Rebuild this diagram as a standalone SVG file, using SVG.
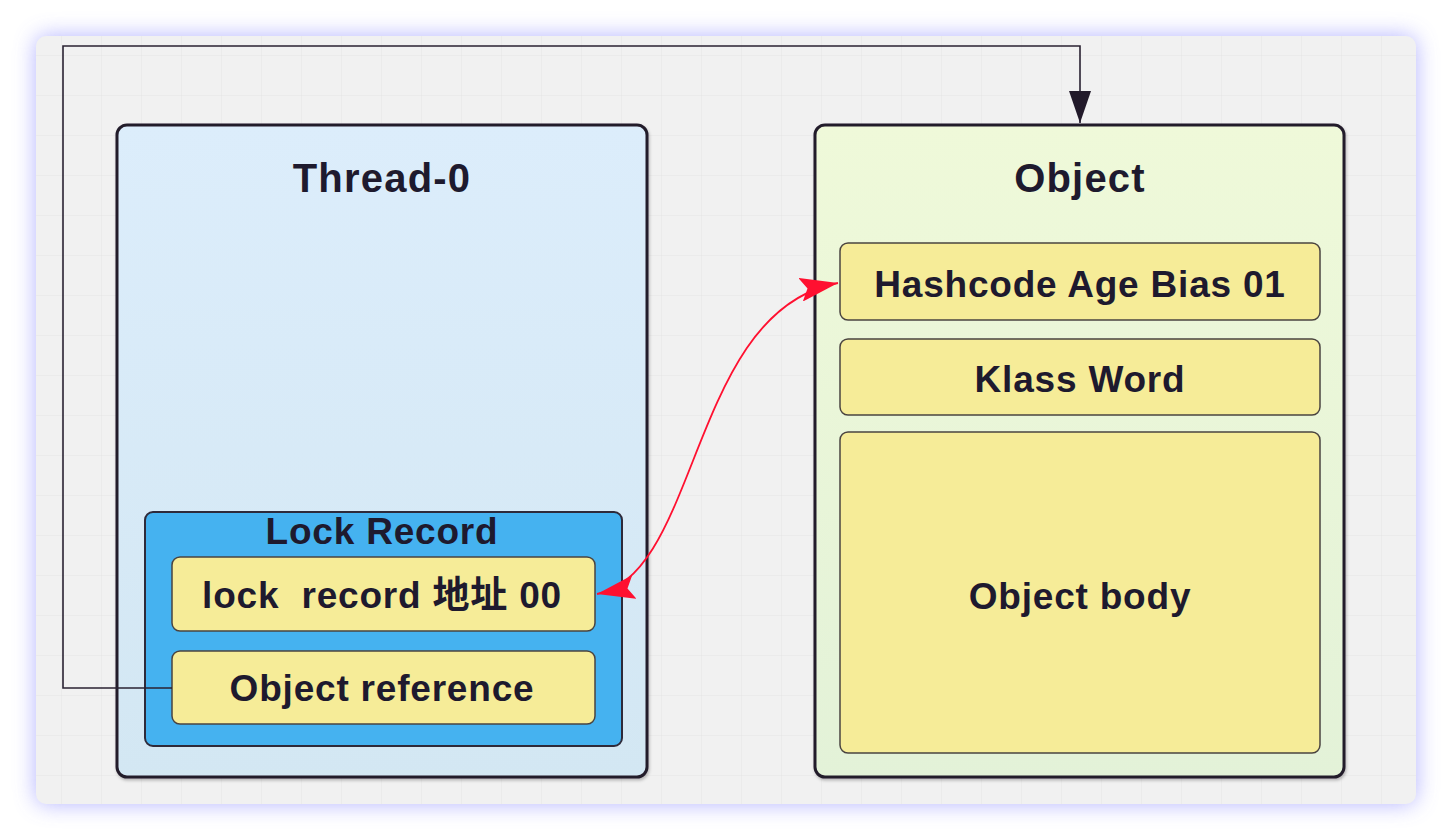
<svg xmlns="http://www.w3.org/2000/svg" width="1452" height="840" viewBox="0 0 1452 840">
<defs>
<style>
.t{font-family:"Liberation Sans","Noto Sans CJK SC",sans-serif;font-weight:bold;fill:#1e1a2e;text-anchor:middle;dominant-baseline:central;white-space:pre}
.big{font-size:40px;letter-spacing:1.2px}
.mid{font-size:37px;letter-spacing:0.8px}
.cell{fill:#f6ec98;stroke:#4a4440;stroke-width:1.5}
.frame{stroke:#241c2c;stroke-width:3}
.conn{fill:none;stroke:#2a2232;stroke-width:1.6}
.red{fill:none;stroke:#ff1030;stroke-width:1.8}
</style>
<pattern id="grid" width="40" height="40" patternUnits="userSpaceOnUse" x="22" y="16">
<path d="M40 0V40M0 40H40" fill="none" stroke="#e4e4e4" stroke-width="1"/>
</pattern>
<linearGradient id="blue" x1="0" y1="0" x2="0" y2="1">
<stop offset="0" stop-color="#dcedfb"/><stop offset="1" stop-color="#d3e7f3"/>
</linearGradient>
<linearGradient id="green" x1="0" y1="0" x2="0" y2="1">
<stop offset="0" stop-color="#eff9d9"/><stop offset="1" stop-color="#e3f2d8"/>
</linearGradient>
<filter id="sh" x="-5%" y="-5%" width="110%" height="110%">
<feDropShadow dx="1" dy="2" stdDeviation="1.5" flood-color="#000" flood-opacity="0.25"/>
</filter>
<filter id="blur" x="-10%" y="-10%" width="120%" height="120%">
<feGaussianBlur stdDeviation="11"/>
</filter>
<marker id="ab" viewBox="0 0 32 22" refX="32" refY="11" markerWidth="32" markerHeight="22" markerUnits="userSpaceOnUse" orient="auto">
<path d="M0 0L32 11L0 22z" fill="#221a2a"/>
</marker>
<marker id="ar" viewBox="0 0 38 24" refX="38" refY="12" markerWidth="38" markerHeight="24" markerUnits="userSpaceOnUse" orient="auto-start-reverse">
<path d="M0 0L38 12L0 24L7 12z" fill="#ff1030"/>
</marker>
</defs>
<rect width="1452" height="840" fill="#ffffff"/>
<g id="card">
<rect x="36" y="36" width="1380" height="768" rx="10" fill="#a0a0ff" opacity="0.8" filter="url(#blur)"/>
<rect x="36" y="36" width="1380" height="768" rx="10" fill="#f1f1f1"/>
<rect x="36" y="36" width="1380" height="768" rx="10" fill="url(#grid)"/>
</g>
<g id="thread0">
<rect x="117" y="125" width="530" height="652" rx="10" fill="url(#blue)" class="frame" filter="url(#sh)"/>
<text x="382" y="178" class="t big">Thread-0</text>
</g>
<g id="lockrecord">
<rect x="145" y="512" width="477" height="234" rx="8" fill="#45b2f0" stroke="#2e2a3a" stroke-width="2"/>
<text x="382" y="531" class="t mid">Lock Record</text>
</g>
<g id="lockaddr">
<rect x="172" y="557" width="423" height="74" rx="8" class="cell"/>
<text x="382" y="595" class="t mid">lock  record 地址 00</text>
</g>
<g id="objref">
<rect x="172" y="651" width="423" height="73" rx="8" class="cell"/>
<text x="382" y="688" class="t mid">Object reference</text>
</g>
<g id="object">
<rect x="815" y="125" width="529" height="652" rx="10" fill="url(#green)" class="frame" filter="url(#sh)"/>
<text x="1080" y="178" class="t big">Object</text>
</g>
<g id="hashcode">
<rect x="840" y="243" width="480" height="77" rx="8" class="cell"/>
<text x="1080" y="284" class="t mid">Hashcode Age Bias 01</text>
</g>
<g id="klass">
<rect x="840" y="339" width="480" height="76" rx="8" class="cell"/>
<text x="1080" y="379" class="t mid">Klass Word</text>
</g>
<g id="body">
<rect x="840" y="432" width="480" height="321" rx="8" class="cell"/>
<text x="1080" y="596" class="t mid">Object body</text>
</g>
<g id="connectors">
<path class="conn" d="M172 688H63V46H1080V123" marker-end="url(#ab)"/>
<path class="red" d="M597 594C700 575 690 310 838 283" marker-start="url(#ar)" marker-end="url(#ar)"/>
</g>
</svg>
